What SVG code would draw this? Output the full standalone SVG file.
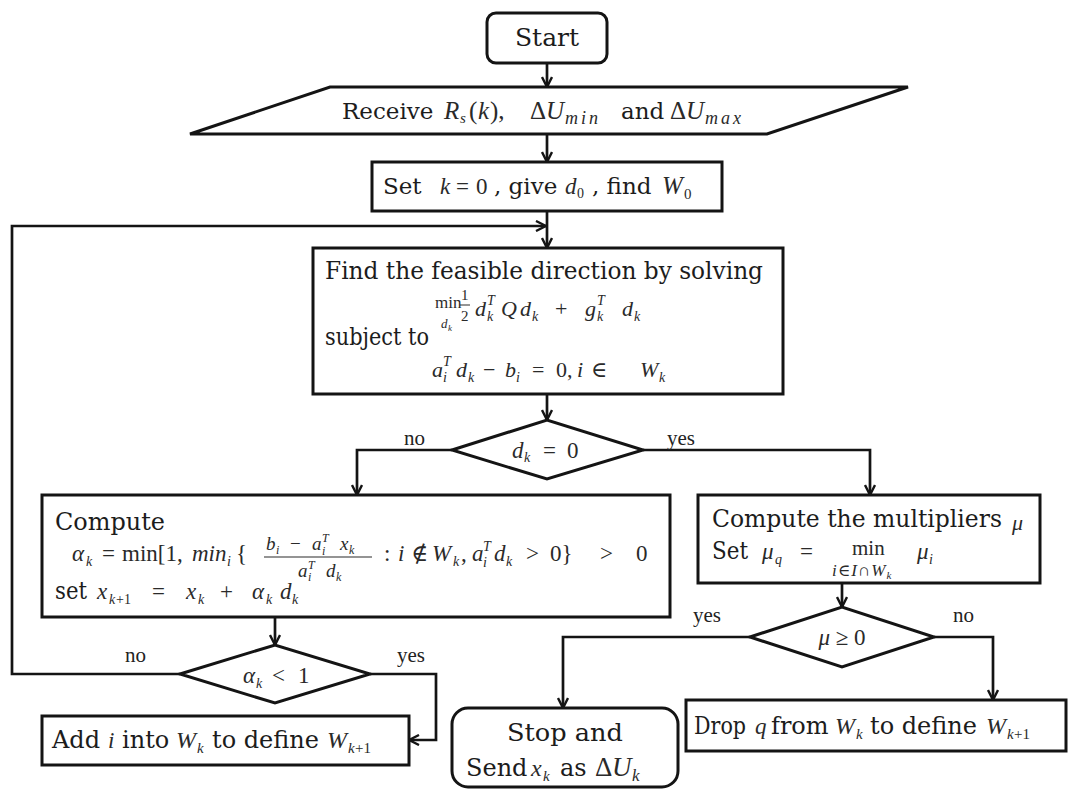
<svg xmlns="http://www.w3.org/2000/svg" width="1073" height="790" viewBox="0 0 1073 790">
  <defs>
    <style>
      .bx { fill: #ffffff; stroke: #141414; stroke-width: 3; }
      .ln { fill: none; stroke: #141414; stroke-width: 2.7; }
      .t  { font-family: "DejaVu Serif", "Liberation Serif", serif; font-size: 23px; fill: #1c1c1c; }
      .m  { font-family: "Liberation Serif", "DejaVu Serif", serif; font-style: italic; font-size: 23px; fill: #2a2a2a; }
      .r  { font-family: "Liberation Serif", "DejaVu Serif", serif; font-style: normal; font-size: 23px; fill: #2a2a2a; }
      .lb { font-family: "Liberation Serif", serif; font-size: 21px; fill: #222222; }
    </style>
    <marker id="ah" viewBox="0 0 12 12" refX="11" refY="6" markerWidth="12" markerHeight="12" markerUnits="userSpaceOnUse" orient="auto">
      <path d="M1,1 L11,6 L1,11" fill="none" stroke="#141414" stroke-width="2.4"/>
    </marker>
  </defs>

  <rect width="1073" height="790" fill="#ffffff"/>

  <!-- connectors -->
  <g id="connectors" class="ln">
    <path d="M547,63 V87" marker-end="url(#ah)"/>
    <path d="M547,134 V162" marker-end="url(#ah)"/>
    <path d="M547,211 V248" marker-end="url(#ah)"/>
    <path d="M180,674 H12 V226 H546" marker-end="url(#ah)"/>
    <path d="M547,394 V420" marker-end="url(#ah)"/>
    <path d="M452,450 H357 V495" marker-end="url(#ah)"/>
    <path d="M643,450 H870 V495" marker-end="url(#ah)"/>
    <path d="M275,617 V645" marker-end="url(#ah)"/>
    <path d="M370,674 H436 V740 H409" marker-end="url(#ah)"/>
    <path d="M842,583 V607" marker-end="url(#ah)"/>
    <path d="M750,637 H563 V708" marker-end="url(#ah)"/>
    <path d="M934,637 H993 V700" marker-end="url(#ah)"/>
  </g>

  <!-- branch labels -->
  <g id="labels">
    <text class="lb" x="404" y="445">no</text>
    <text class="lb" x="667" y="445">yes</text>
    <text class="lb" x="693" y="622">yes</text>
    <text class="lb" x="953" y="622">no</text>
    <text class="lb" x="125" y="662">no</text>
    <text class="lb" x="397" y="662">yes</text>
  </g>

  <g id="start">
    <rect class="bx" x="487" y="13" width="120" height="50" rx="9"/>
    <text class="t" x="547" y="46" text-anchor="middle" style="font-size:25px">Start</text>
  </g>

  <g id="receive">
    <polygon class="bx" points="330,87 908,87 767,134 190,134"/>
    <text class="t" x="342" y="119">Receive</text>
    <text class="m" style="font-size:25px"><tspan x="444" y="119">R</tspan><tspan x="460" y="123" font-size="15">s</tspan><tspan x="469" y="119" font-style="normal">(</tspan><tspan x="478" y="119">k</tspan><tspan x="490" y="119" font-style="normal">),</tspan></text>
    <text class="m" style="font-size:25px"><tspan x="530" y="119" font-style="normal">Δ</tspan><tspan x="546" y="119">U</tspan><tspan x="565" y="124" font-size="18" letter-spacing="3">min</tspan></text>
    <text class="t" x="621" y="119">and</text>
    <text class="m" style="font-size:25px"><tspan x="670" y="119" font-style="normal">Δ</tspan><tspan x="686" y="119">U</tspan><tspan x="705" y="124" font-size="18" letter-spacing="3">max</tspan></text>
  </g>

  <g id="init">
    <rect class="bx" x="372" y="162" width="350" height="49"/>
    <text class="t" x="383" y="194">Set</text>
    <text class="m"><tspan x="440" y="194">k</tspan><tspan x="456" y="194" font-style="normal">=</tspan><tspan x="476" y="194" font-style="normal">0</tspan></text>
    <text class="t" x="494" y="194">, give</text>
    <text class="m"><tspan x="565" y="194">d</tspan><tspan x="577" y="198" font-size="14" font-style="normal">0</tspan></text>
    <text class="t" x="592" y="194">, find</text>
    <text class="m" style="font-size:25px"><tspan x="662" y="194">W</tspan><tspan x="684" y="199" font-size="15" font-style="normal">0</tspan></text>
  </g>

  <g id="direction">
    <rect class="bx" x="313" y="248" width="470" height="146"/>
    <text class="t" x="325" y="279" style="font-size:24px" textLength="438" lengthAdjust="spacingAndGlyphs">Find the feasible direction by solving</text>
    <!-- objective: min over d_k of 1/2 d'Qd + g'd -->
    <text class="r" x="435" y="308" style="font-size:17px">min</text>
    <text class="m" style="font-size:13px"><tspan x="441" y="328">d</tspan><tspan x="448" y="331" font-size="9">k</tspan></text>
    <text class="r" x="461" y="300" style="font-size:15px">1</text>
    <line x1="460" y1="305" x2="470" y2="305" stroke="#2a2a2a" stroke-width="1"/>
    <text class="r" x="461" y="321" style="font-size:15px">2</text>
    <text class="m" style="font-size:22px">
      <tspan x="475" y="316">d</tspan><tspan x="487" y="305" font-size="14">T</tspan><tspan x="487" y="321" font-size="14">k</tspan>
      <tspan x="501" y="316">Q</tspan><tspan x="520" y="316">d</tspan><tspan x="532" y="321" font-size="14">k</tspan>
      <tspan x="555" y="316" font-style="normal">+</tspan>
      <tspan x="585" y="316">g</tspan><tspan x="597" y="305" font-size="14">T</tspan><tspan x="597" y="321" font-size="14">k</tspan>
      <tspan x="622" y="316">d</tspan><tspan x="634" y="321" font-size="14">k</tspan>
    </text>
    <text class="t" x="325" y="345" style="font-size:24px" textLength="104" lengthAdjust="spacingAndGlyphs">subject to</text>
    <text class="m" style="font-size:22px">
      <tspan x="432" y="377">a</tspan><tspan x="443" y="366" font-size="14">T</tspan><tspan x="443" y="382" font-size="14">i</tspan>
      <tspan x="456" y="377">d</tspan><tspan x="468" y="382" font-size="14">k</tspan>
      <tspan x="483" y="377" font-style="normal">−</tspan>
      <tspan x="505" y="377">b</tspan><tspan x="516" y="382" font-size="14">i</tspan>
      <tspan x="532" y="377" font-style="normal">=</tspan>
      <tspan x="556" y="377" font-style="normal">0,</tspan>
      <tspan x="577" y="377">i</tspan>
      <tspan x="591" y="377" font-style="normal">∈</tspan>
      <tspan x="640" y="377">W</tspan><tspan x="659" y="382" font-size="14">k</tspan>
    </text>
  </g>

  <g id="check-direction">
    <polygon class="bx" points="452,450 547,420 643,450 547,479"/>
    <text class="m"><tspan x="512" y="458">d</tspan><tspan x="524" y="462" font-size="14">k</tspan><tspan x="543" y="458" font-style="normal">=</tspan><tspan x="567" y="458" font-style="normal">0</tspan></text>
  </g>

  <g id="step-length">
    <rect class="bx" x="42" y="495" width="628" height="122"/>
    <text class="t" x="55" y="530" style="font-size:24px" textLength="110" lengthAdjust="spacingAndGlyphs">Compute</text>
    <text class="m">
      <tspan x="72" y="561">α</tspan><tspan x="86" y="566" font-size="14">k</tspan>
      <tspan x="102" y="561" font-style="normal">=</tspan>
      <tspan x="122" y="561" font-style="normal">min[1,</tspan>
      <tspan x="192" y="561">min</tspan><tspan x="227" y="566" font-size="14">i</tspan>
      <tspan x="236" y="561" font-style="normal">{</tspan>
    </text>
    <!-- step-length ratio -->
    <text class="m" style="font-size:19px">
      <tspan x="266" y="550">b</tspan><tspan x="276" y="554" font-size="12">i</tspan>
      <tspan x="290" y="550" font-style="normal">−</tspan>
      <tspan x="312" y="550">a</tspan><tspan x="322" y="542" font-size="12">T</tspan><tspan x="322" y="555" font-size="12">i</tspan>
      <tspan x="340" y="550">x</tspan><tspan x="349" y="554" font-size="12">k</tspan>
    </text>
    <line x1="264" y1="557" x2="372" y2="557" stroke="#2a2a2a" stroke-width="1.2"/>
    <text class="m" style="font-size:19px">
      <tspan x="298" y="577">a</tspan><tspan x="308" y="569" font-size="12">T</tspan><tspan x="308" y="581" font-size="12">i</tspan>
      <tspan x="326" y="577">d</tspan><tspan x="336" y="581" font-size="12">k</tspan>
    </text>
    <text class="m">
      <tspan x="384" y="561" font-style="normal">:</tspan>
      <tspan x="398" y="561">i</tspan>
      <tspan x="411" y="561" font-style="normal">∉</tspan>
      <tspan x="432" y="561">W</tspan><tspan x="453" y="566" font-size="14">k</tspan>
      <tspan x="461" y="561" font-style="normal">,</tspan>
      <tspan x="472" y="561">a</tspan><tspan x="483" y="551" font-size="14">T</tspan><tspan x="483" y="567" font-size="14">i</tspan>
      <tspan x="494" y="561">d</tspan><tspan x="506" y="566" font-size="14">k</tspan>
      <tspan x="526" y="561" font-style="normal">&gt;</tspan>
      <tspan x="550" y="561" font-style="normal">0}</tspan>
      <tspan x="600" y="561" font-style="normal">&gt;</tspan>
      <tspan x="636" y="561" font-style="normal">0</tspan>
    </text>
    <text class="t" x="55" y="599" style="font-size:24px" textLength="32" lengthAdjust="spacingAndGlyphs">set</text>
    <text class="m">
      <tspan x="97" y="599">x</tspan><tspan x="109" y="604" font-size="14">k</tspan><tspan x="116" y="604" font-size="14" font-style="normal">+1</tspan>
      <tspan x="152" y="599" font-style="normal">=</tspan>
      <tspan x="186" y="599">x</tspan><tspan x="198" y="604" font-size="14">k</tspan>
      <tspan x="220" y="599" font-style="normal">+</tspan>
      <tspan x="252" y="599">α</tspan><tspan x="266" y="604" font-size="14">k</tspan>
      <tspan x="280" y="599">d</tspan><tspan x="292" y="604" font-size="14">k</tspan>
    </text>
  </g>

  <g id="check-step">
    <polygon class="bx" points="180,674 275,645 370,674 275,703"/>
    <text class="m"><tspan x="243" y="683">α</tspan><tspan x="256" y="688" font-size="14">k</tspan><tspan x="272" y="683" font-style="normal">&lt;</tspan><tspan x="298" y="683" font-style="normal">1</tspan></text>
  </g>

  <g id="add-constraint">
    <rect class="bx" x="42" y="716" width="367" height="49"/>
    <text class="t" x="52" y="748" style="font-size:24px">Add</text>
    <text class="m" x="108" y="748">i</text>
    <text class="t" x="122" y="748" style="font-size:24px">into</text>
    <text class="m" style="font-size:24px"><tspan x="176" y="748">W</tspan><tspan x="197" y="753" font-size="15">k</tspan></text>
    <text class="t" x="212" y="748" style="font-size:24px">to define</text>
    <text class="m" style="font-size:24px"><tspan x="327" y="748">W</tspan><tspan x="348" y="753" font-size="15">k</tspan><tspan x="355" y="753" font-size="15" font-style="normal">+1</tspan></text>
  </g>

  <g id="multipliers">
    <rect class="bx" x="698" y="495" width="342" height="88"/>
    <text class="t" x="712" y="527" style="font-size:24px" textLength="290" lengthAdjust="spacingAndGlyphs">Compute the multipliers</text>
    <text class="m" x="1012" y="530" style="font-size:22px">μ</text>
    <text class="t" x="712" y="559" style="font-size:24px" textLength="36" lengthAdjust="spacingAndGlyphs">Set</text>
    <text class="m"><tspan x="762" y="559">μ</tspan><tspan x="775" y="564" font-size="14">q</tspan><tspan x="800" y="559" font-style="normal">=</tspan></text>
    <text class="r" x="852" y="555" style="font-size:21px">min</text>
    <text class="m" style="font-size:17px" letter-spacing="1"><tspan x="832" y="576">i</tspan><tspan font-style="normal">∈</tspan><tspan>I</tspan><tspan font-style="normal">∩</tspan><tspan>W</tspan><tspan font-size="11" dy="3">k</tspan></text>
    <text class="m"><tspan x="917" y="559">μ</tspan><tspan x="929" y="564" font-size="14">i</tspan></text>
  </g>

  <g id="check-multipliers">
    <polygon class="bx" points="750,637 842,607 934,637 842,667"/>
    <text class="m" x="842" y="645" text-anchor="middle">μ <tspan font-style="normal">≥ 0</tspan></text>
  </g>

  <g id="stop">
    <rect class="bx" x="452" y="708" width="226" height="79" rx="16"/>
    <text class="t" x="507" y="741" style="font-size:24px" textLength="116" lengthAdjust="spacingAndGlyphs">Stop and</text>
    <text class="t" x="466" y="776" style="font-size:24px">Send</text>
    <text class="m" style="font-size:24px"><tspan x="531" y="776">x</tspan><tspan x="543" y="781" font-size="15">k</tspan></text>
    <text class="t" x="560" y="776" style="font-size:24px">as</text>
    <text class="m" style="font-size:27px"><tspan x="595" y="776" font-style="normal">Δ</tspan><tspan x="612" y="776">U</tspan><tspan x="632" y="781" font-size="17">k</tspan></text>
  </g>

  <g id="drop-constraint">
    <rect class="bx" x="686" y="700" width="380" height="51"/>
    <text class="t" x="694" y="734" style="font-size:24px" textLength="52" lengthAdjust="spacingAndGlyphs">Drop</text>
    <text class="m" x="755" y="734">q</text>
    <text class="t" x="771" y="734" style="font-size:24px">from</text>
    <text class="m" style="font-size:24px"><tspan x="835" y="734">W</tspan><tspan x="856" y="739" font-size="15">k</tspan></text>
    <text class="t" x="870" y="734" style="font-size:24px">to define</text>
    <text class="m" style="font-size:24px"><tspan x="986" y="734">W</tspan><tspan x="1007" y="739" font-size="15">k</tspan><tspan x="1014" y="739" font-size="15" font-style="normal">+1</tspan></text>
  </g>
</svg>
